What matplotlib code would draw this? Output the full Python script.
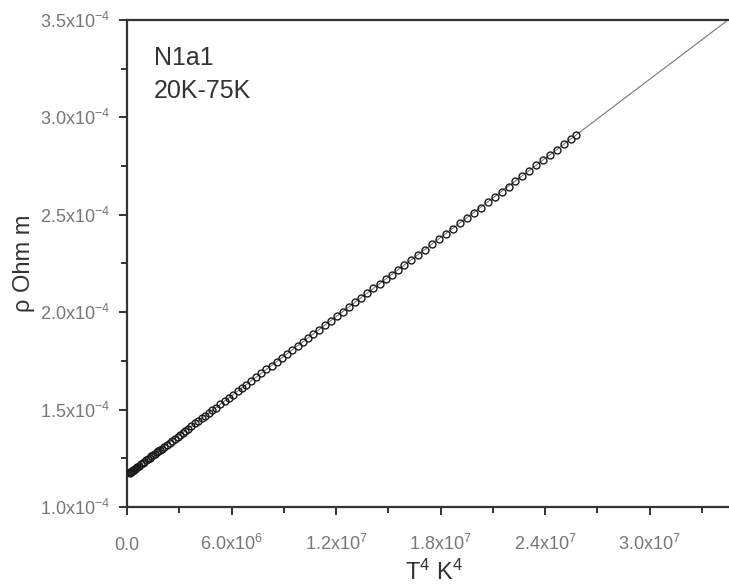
import matplotlib
matplotlib.use("Agg")
import matplotlib.pyplot as plt
from matplotlib.ticker import FixedLocator, MultipleLocator

plt.rcParams['font.family'] = ['Liberation Sans', 'DejaVu Sans']
plt.rcParams['mathtext.fontset'] = 'custom'
plt.rcParams['mathtext.rm'] = 'Liberation Sans'
plt.rcParams['mathtext.it'] = 'Liberation Sans:italic'
plt.rcParams['mathtext.default'] = 'regular'

# T^4 values (units of 1e6 K^4) and resistivity (units of 1e-4 Ohm m)
t4 = [0.16, 0.2, 0.25, 0.3, 0.35, 0.4, 0.45, 0.5, 0.6, 0.7, 0.8, 0.9, 1.0, 1.1, 1.2,
      1.3, 1.4, 1.5, 1.6, 1.7, 1.8, 1.9, 2.0, 2.15, 2.3, 2.45, 2.6, 2.75, 2.9, 3.05,
      3.2, 3.35, 3.5, 3.7, 3.9, 4.1, 4.3, 4.5, 4.7, 4.9, 5.1, 5.35, 5.6, 5.85, 6.1,
      6.35, 6.6, 6.85, 7.1, 7.4, 7.7, 8.0, 8.3, 8.6, 8.9, 9.2, 9.5, 9.8, 10.1, 10.4,
      10.7, 11.0, 11.35, 11.7, 12.05, 12.4, 12.75, 13.1, 13.45, 13.8, 14.15, 14.5,
      14.85, 15.2, 15.55, 15.9, 16.3, 16.7, 17.1, 17.5, 17.9, 18.3, 18.7, 19.1, 19.5,
      19.9, 20.3, 20.7, 21.1, 21.5, 21.9, 22.3, 22.7, 23.1, 23.5, 23.9, 24.3, 24.7,
      25.1, 25.5, 25.8]
rho = [1.176, 1.179, 1.182, 1.185, 1.189, 1.192, 1.195, 1.199, 1.206, 1.212, 1.219,
       1.226, 1.233, 1.239, 1.246, 1.253, 1.260, 1.266, 1.273, 1.280, 1.287, 1.293,
       1.300, 1.310, 1.320, 1.331, 1.341, 1.351, 1.361, 1.371, 1.381, 1.391, 1.402,
       1.415, 1.429, 1.442, 1.456, 1.469, 1.483, 1.496, 1.510, 1.527, 1.544, 1.560,
       1.577, 1.594, 1.611, 1.628, 1.645, 1.665, 1.686, 1.706, 1.726, 1.746, 1.767,
       1.787, 1.807, 1.827, 1.848, 1.868, 1.888, 1.909, 1.932, 1.956, 1.980, 2.003,
       2.027, 2.051, 2.074, 2.098, 2.122, 2.145, 2.169, 2.193, 2.216, 2.240, 2.267,
       2.294, 2.321, 2.348, 2.375, 2.402, 2.429, 2.456, 2.483, 2.510, 2.537, 2.564,
       2.591, 2.618, 2.645, 2.672, 2.700, 2.727, 2.754, 2.781, 2.808, 2.835, 2.862,
       2.889, 2.909]

# linear fit line
fit_x = [0.0, 34.5]
fit_y = [1.165, 3.50]

xticks = [0, 6e6, 1.2e7, 1.8e7, 2.4e7, 3.0e7]
xtick_labels = ['0.0', r'6.0x10$^{6}$', r'1.2x10$^{7}$', r'1.8x10$^{7}$',
                r'2.4x10$^{7}$', r'3.0x10$^{7}$']
yticks = [1.0e-4, 1.5e-4, 2.0e-4, 2.5e-4, 3.0e-4, 3.5e-4]
ytick_labels = [r'1.0x10$^{-4}$', r'1.5x10$^{-4}$', r'2.0x10$^{-4}$',
                r'2.5x10$^{-4}$', r'3.0x10$^{-4}$', r'3.5x10$^{-4}$']

fig = plt.figure(figsize=(7.29, 5.87), dpi=100)
ax = fig.add_axes([127 / 729, 1 - 507 / 587, 601 / 729, 487 / 587])

ax.plot([v * 1e6 for v in fit_x], [v * 1e-4 for v in fit_y],
        color='#777777', lw=0.8, zorder=2)
ax.plot([v * 1e6 for v in t4], [v * 1e-4 for v in rho], 'o', ms=5,
        mfc='none', mec='#1a1a1a', mew=1.0, zorder=3)

ax.set_xlim(0, 3.45e7)
ax.set_ylim(1.0e-4, 3.5e-4)

ax.xaxis.set_major_locator(FixedLocator(xticks))
ax.set_xticklabels(xtick_labels, va='baseline')
ax.xaxis.set_minor_locator(MultipleLocator(3e6))
ax.yaxis.set_major_locator(FixedLocator(yticks))
ax.set_yticklabels(ytick_labels)
ax.yaxis.set_minor_locator(MultipleLocator(0.25e-4))

ax.spines['right'].set_visible(False)
for s in ['left', 'bottom', 'top']:
    ax.spines[s].set_linewidth(1.6)
    ax.spines[s].set_color('#333333')

ax.tick_params(which='both', direction='out', top=False, right=False,
               color='#333333', width=1.4)
ax.tick_params(which='major', length=6, labelsize=13, labelcolor='#777777')
ax.tick_params(axis='x', which='major', pad=25)
ax.tick_params(axis='y', which='major', pad=6)
ax.tick_params(which='minor', length=4)

ax.set_xlabel(r'T$^{4}$ K$^{4}$', fontsize=17, color='#333333')
ax.xaxis.set_label_coords(0.51, -0.108)
ax.set_ylabel('ρ Ohm m', fontsize=17, color='#333333')
ax.yaxis.set_label_coords(-0.153, 0.5)

ax.text(0.045, 0.907, 'N1a1', transform=ax.transAxes, fontsize=18,
        color='#333333', va='baseline')
ax.text(0.045, 0.840, '20K-75K', transform=ax.transAxes, fontsize=18,
        color='#333333', va='baseline')

fig.savefig('out.png', dpi=100)
